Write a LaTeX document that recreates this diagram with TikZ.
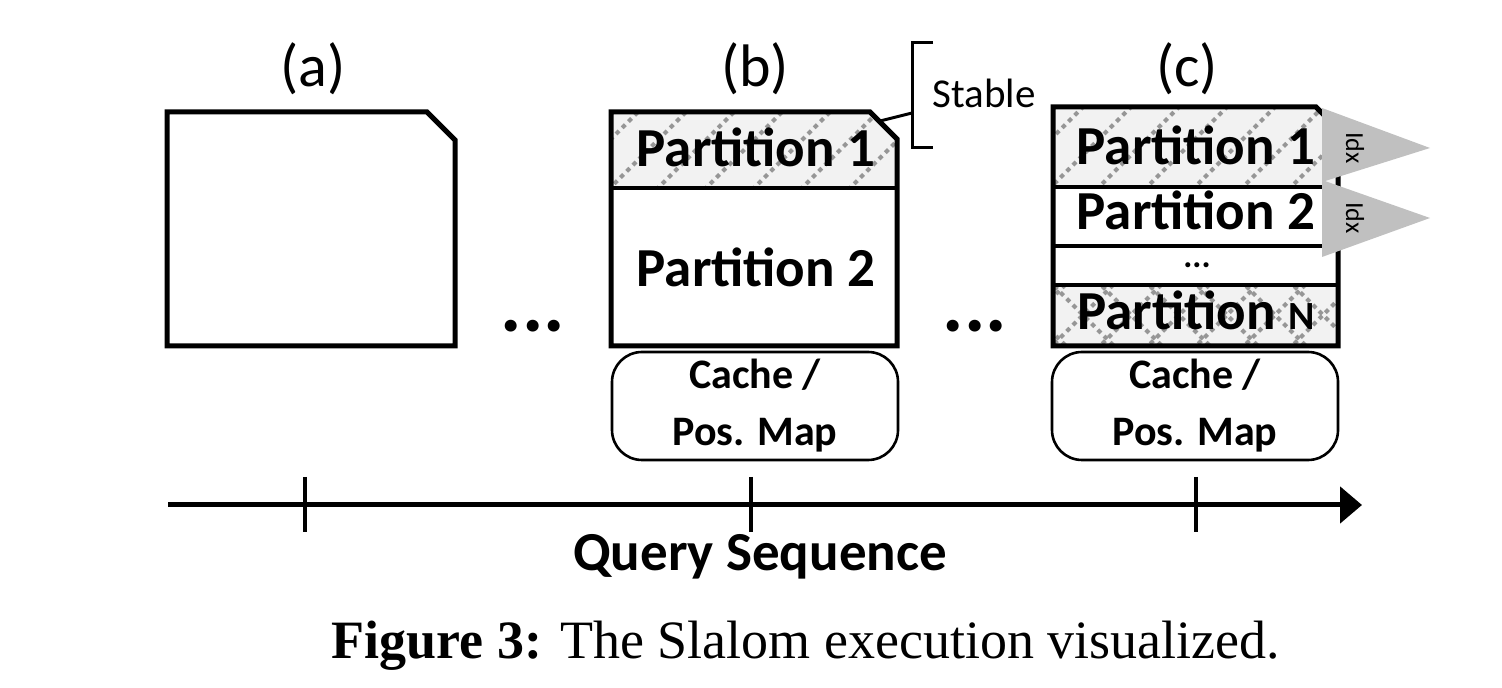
\documentclass[tikz,border=0pt]{standalone}
\usepackage{fontspec}
\setmainfont{Liberation Serif}
\newfontfamily\carlito{Carlito}
\usetikzlibrary{arrows.meta,positioning}
\definecolor{idxgray}{RGB}{192,192,192}
\definecolor{hatchfill}{RGB}{242,242,242}
\definecolor{hatchgray}{RGB}{150,150,150}
\tikzstyle{chunk}=[line width=2.5pt,line join=miter]
\tikzstyle{divider}=[line width=2pt]
\tikzstyle{hatchline}=[hatchgray,line width=2pt,dash pattern=on 2.2pt off 2.2pt]
\tikzstyle{part}=[font=\carlito\bfseries\fontsize{27.5}{30}\selectfont,inner sep=0pt,anchor=base]
\tikzstyle{cachebox}=[draw,line width=1.3pt,rounded corners=15pt,minimum width=143pt,minimum height=54pt,align=center,inner sep=0pt,font=\carlito\bfseries\fontsize{21}{28.5}\selectfont]
\tikzstyle{stage}=[font=\carlito\fontsize{30}{32}\selectfont,inner sep=0pt,anchor=base]
\tikzstyle{idxflag}=[fill=idxgray,draw=none]
\tikzstyle{idx}=[font=\carlito\fontsize{13}{14}\selectfont,rotate=-90,inner sep=0pt]
\tikzstyle{tick}=[line width=1.8pt]
\tikzstyle{bigdots}=[font=\carlito\bfseries\fontsize{40}{40}\selectfont,inner sep=0pt,anchor=base]
\begin{document}
\begin{tikzpicture}[x=0.5pt,y=-0.5pt]
\useasboundingbox (0,0) rectangle (1502,688);

% (a)
\node[stage] (la) at (313,87) {(a)};
\draw[chunk] (167,112) -- (427,112) -- (455,140) -- (455,346) -- (167,346) -- cycle;
\node[bigdots] (dots1) at (533,332) {...};

% (b)
\node[stage] (lb) at (755,87) {(b)};
\begin{scope}
  \clip (611,112) -- (870,112) -- (897,139) -- (897,188) -- (611,188) -- cycle;
  \fill[hatchfill] (600,100) rectangle (900,190);
  \foreach \hx in {560,608,...,900}{\draw[hatchline] (\hx,190) -- ++(80,-80);}
\end{scope}
\draw[chunk] (611,112) -- (870,112) -- (897,139) -- (897,346) -- (611,346) -- cycle;
\draw[divider] (611,188) -- (897,188);
\node[part] (b1) at (756,167) {Partition 1};
\node[part] (b2) at (756,287) {Partition 2};
\node[cachebox] (bcache) at (755,406) {Cache /\\Pos. Map};
\node[bigdots] (dots2) at (975,332) {...};

% stable callout
\coordinate (chamfer) at (880,121);
\coordinate (brk) at (912,113);
\draw[line width=1.5pt] (933,43) -- (912,43) -- (912,148) -- (933,148);
\draw[line width=1.5pt] (chamfer) -- (brk);
\node[font=\carlito\fontsize{20.5}{22}\selectfont,inner sep=0pt,anchor=base west] (stable) at (932,108) {Stable};

% (c)
\node[stage] (lc) at (1187,87) {(c)};
\begin{scope}
  \clip (1053,107) -- (1316,107) -- (1338,129) -- (1338,187) -- (1053,187) -- cycle;
  \fill[hatchfill] (1040,100) rectangle (1340,190);
  \foreach \hx in {1000,1048,...,1340}{\draw[hatchline] (\hx,190) -- ++(85,-85);}
\end{scope}
\begin{scope}
  \clip (1053,285) rectangle (1338,347);
  \fill[hatchfill] (1040,280) rectangle (1340,350);
  \foreach \hx in {1000,1048,...,1340}{\draw[hatchline] (\hx,350) -- ++(70,-70);}
  \foreach \hx in {1000,1048,...,1340}{\draw[hatchline] (\hx,280) -- ++(70,70);}
\end{scope}
\draw[chunk] (1053,107) -- (1316,107) -- (1338,129) -- (1338,346) -- (1053,346) -- cycle;
\draw[divider] (1053,187) -- (1338,187);
\draw[divider] (1053,246) -- (1338,246);
\draw[divider] (1053,285) -- (1338,285);
\node[part] (c1) at (1196,165) {Partition 1};
\node[part] (c2) at (1196,230) {Partition 2};
\node[font=\carlito\bfseries\fontsize{17}{17}\selectfont,inner sep=0pt,anchor=base] (cdots) at (1197,268) {...};
\node[part] (cn) at (1196,330) {Partition {\fontsize{20}{20}\selectfont N}};
\node[cachebox] (ccache) at (1195,406) {Cache /\\Pos. Map};

% index flags
\fill[idxflag] (1322,108) -- (1430,148) -- (1322,182) -- cycle;
\fill[idxflag] (1322,180) -- (1430,218) -- (1322,257) -- cycle;
\node[idx] (idx1) at (1355,148) {Idx};
\node[idx] (idx2) at (1355,218) {Idx};

% query axis
\coordinate (qstart) at (168,505);
\coordinate (qend) at (1362,505);
\draw[line width=2.5pt,-{Triangle[length=11pt,width=18pt]}] (qstart) -- (qend);
\foreach \tx in {305,751,1196}{\draw[tick] (\tx,477) -- (\tx,532);}
\node[font=\carlito\bfseries\fontsize{27.5}{30}\selectfont,inner sep=0pt,anchor=base] (query) at (760,570) {Query Sequence};

% caption
\node[font=\fontsize{27}{30}\selectfont,inner sep=0pt,anchor=base] (caption) at (806,658) {\textbf{Figure 3:} The Slalom execution visualized.};
\end{tikzpicture}
\end{document}
